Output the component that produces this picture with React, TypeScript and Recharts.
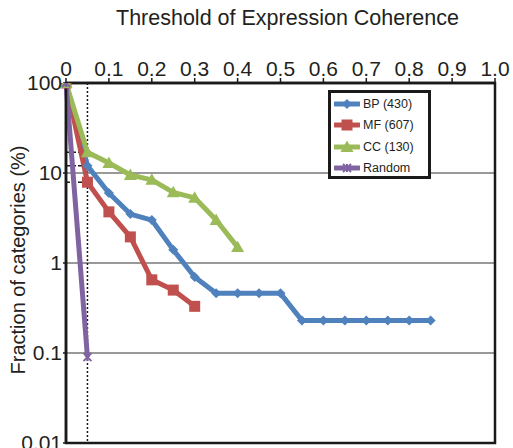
import React from 'react';
import {
  LineChart,
  Line,
  XAxis,
  YAxis,
  CartesianGrid,
  ReferenceLine,
  ReferenceArea,
} from 'recharts';

// thresholds on the x axis (every 0.05)
const thresholds = [0, 0.05, 0.1, 0.15, 0.2, 0.25, 0.3, 0.35, 0.4, 0.45, 0.5, 0.55, 0.6, 0.65, 0.7, 0.75, 0.8, 0.85];

// fraction of categories (%) per series
const bpValues = [100, 12, 6.0, 3.5, 3.0, 1.4, 0.7, 0.46, 0.46, 0.46, 0.46, 0.23, 0.23, 0.23, 0.23, 0.23, 0.23, 0.23];
const mfValues = [100, 7.9, 3.7, 1.95, 0.65, 0.5, 0.33];
const ccValues = [100, 17, 12.9, 9.5, 8.4, 6.1, 5.3, 3.0, 1.5];
const randomValues = [100, 0.09];

const xTicks = [0, 0.1, 0.2, 0.3, 0.4, 0.5, 0.6, 0.7, 0.8, 0.9, 1.0];
const yTicks = [0.01, 0.1, 1, 10, 100];

// dashed guide lines at threshold 0.05
const guideX = 0.05;
const guideLevels = [17, 12, 7.9];

const series = [
  { key: 'bp', name: 'BP (430)', color: '#4F81BD', marker: 'diamond', values: bpValues },
  { key: 'mf', name: 'MF (607)', color: '#C0504D', marker: 'square', values: mfValues },
  { key: 'cc', name: 'CC (130)', color: '#9BBB59', marker: 'triangle', values: ccValues },
  { key: 'random', name: 'Random', color: '#8064A2', marker: 'star', values: randomValues },
];

const data = thresholds.map((x, i) => {
  const row: Record<string, number | undefined> = { x };
  series.forEach((s) => {
    row[s.key] = s.values[i];
  });
  return row;
});

const FONT = '"Liberation Sans", Arial, sans-serif';
const TEXT = '#231F20';

const Marker = ({ cx, cy, type, color }: { cx: number; cy: number; type: string; color: string }) => {
  if (type === 'diamond') {
    const r = 5;
    return <path d={`M${cx},${cy - r}L${cx + r},${cy}L${cx},${cy + r}L${cx - r},${cy}Z`} fill={color} />;
  }
  if (type === 'square') {
    const r = 5.5;
    return <rect x={cx - r} y={cy - r} width={r * 2} height={r * 2} fill={color} />;
  }
  if (type === 'triangle') {
    const r = 6.5;
    return <path d={`M${cx},${cy - r}L${cx + r},${cy + r * 0.75}L${cx - r},${cy + r * 0.75}Z`} fill={color} />;
  }
  const r = 4;
  return (
    <g stroke={color} strokeWidth={2}>
      <line x1={cx - r} y1={cy - r} x2={cx + r} y2={cy + r} />
      <line x1={cx - r} y1={cy + r} x2={cx + r} y2={cy - r} />
      <line x1={cx} y1={cy - r} x2={cx} y2={cy + r} />
    </g>
  );
};

const makeDot = (type: string, color: string) => (props: any) => {
  const { cx, cy, key, value } = props;
  if (cx == null || cy == null || value == null) return <g key={key} />;
  return (
    <g key={key}>
      <Marker cx={cx} cy={cy} type={type} color={color} />
    </g>
  );
};

const LegendBox = () => (
  <div
    style={{
      position: 'absolute',
      left: 328,
      top: 90,
      border: '3px solid #1a1a1a',
      background: '#fff',
      padding: '0 0 0 3px',
      width: 103,
      height: 89,
      boxSizing: 'border-box',
      fontFamily: FONT,
      fontSize: 12.5,
      color: TEXT,
    }}
  >
    {series.map((s) => (
      <div key={s.key} style={{ display: 'flex', alignItems: 'center', height: 21.5, whiteSpace: 'nowrap' }}>
        <svg width={26} height={12} style={{ marginRight: 3, flexShrink: 0 }}>
          <line x1={1} y1={6} x2={25} y2={6} stroke={s.color} strokeWidth={5} strokeLinecap="round" />
          <Marker cx={13} cy={6} type={s.marker} color={s.color} />
        </svg>
        <span style={{ fontSize: 12.5 }}>{s.name}</span>
      </div>
    ))}
  </div>
);

export default function App() {
  return (
    <div style={{ position: 'absolute', left: 0, top: 0, width: 513, height: 448, background: '#fff', overflow: 'hidden' }}>
      <div
        style={{
          position: 'absolute',
          left: 0,
          width: 575,
          top: 6,
          textAlign: 'center',
          fontFamily: FONT,
          fontSize: 21.5,
          color: TEXT,
        }}
      >
        Threshold of Expression Coherence
      </div>
      <div
        style={{
          position: 'absolute',
          left: 18,
          top: 260,
          transform: 'translate(-50%, -50%) rotate(-90deg)',
          whiteSpace: 'nowrap',
          fontFamily: FONT,
          fontSize: 20,
          color: TEXT,
        }}
      >
        Fraction of categories (%)
      </div>
      <LineChart
        width={513}
        height={448}
        data={data}
        margin={{ top: 43, right: 18, bottom: 5, left: 8 }}
        style={{ position: 'absolute', left: 0, top: 0 }}
      >
        <CartesianGrid vertical={false} stroke="#999" strokeWidth={2} />
        <XAxis
          dataKey="x"
          type="number"
          orientation="top"
          domain={[0, 1]}
          ticks={xTicks}
          interval={0}
          height={40}
          tickSize={5}
          tickMargin={2}
          tickFormatter={(v: number) => (v === 0 ? '0' : v.toFixed(1))}
          axisLine={{ stroke: '#1a1a1a', strokeWidth: 2.5 }}
          tickLine={{ stroke: '#1a1a1a', strokeWidth: 1.5 }}
          tick={{ fontFamily: FONT, fontSize: 21, fill: TEXT }}
        />
        <YAxis
          scale="log"
          type="number"
          domain={[0.01, 100]}
          ticks={yTicks}
          interval={0}
          allowDataOverflow
          width={58}
          tickSize={3}
          tickMargin={1}
          tickFormatter={(v: number) => String(v)}
          axisLine={{ stroke: '#1a1a1a', strokeWidth: 2.5 }}
          tickLine={{ stroke: '#1a1a1a', strokeWidth: 1.5 }}
          tick={{ fontFamily: FONT, fontSize: 21, fill: TEXT }}
        />
        <ReferenceArea x1={0} x2={1} y1={0.01} y2={100} fill="none" stroke="#1a1a1a" strokeWidth={2.5} />
        <ReferenceLine x={guideX} stroke="#1a1a1a" strokeWidth={1.5} strokeDasharray="2 2" />
        {guideLevels.map((lv) => (
          <ReferenceLine
            key={lv}
            segment={[{ x: 0, y: lv }, { x: guideX, y: lv }]}
            stroke="#1a1a1a"
            strokeWidth={1.5}
            strokeDasharray="4 2"
          />
        ))}
        {series.map((s) => (
          <Line
            key={s.key}
            dataKey={s.key}
            name={s.name}
            stroke={s.color}
            strokeWidth={5}
            strokeLinejoin="round"
            dot={makeDot(s.marker, s.color)}
            activeDot={false}
            isAnimationActive={false}
          />
        ))}
      </LineChart>
      <LegendBox />
    </div>
  );
}
